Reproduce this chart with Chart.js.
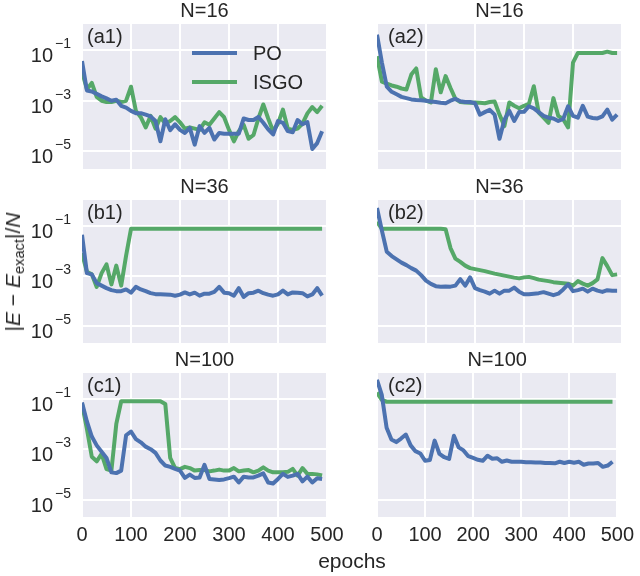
<!DOCTYPE html>
<html>
<head>
<meta charset="utf-8">
<script src="https://cdn.jsdelivr.net/npm/chart.js@4.4.0/dist/chart.umd.min.js"></script>
<style>
  body { margin: 0; background: #fff; }
  #fig { position: relative; width: 640px; height: 576px; overflow: hidden;
         font-family: "Liberation Sans", Arial, Helvetica, sans-serif; color: #262626; }
  .panel { position: absolute; }
  #ylab { position: absolute; left: 13px; top: 272px; white-space: nowrap; font-size: 21px;
          transform: translate(-50%, -50%) rotate(-90deg); }
  #ylab sub { font-size: 0.7em; vertical-align: -0.25em; line-height: 0; }
  #xlab { position: absolute; left: 352px; top: 549px; transform: translateX(-50%); font-size: 21px; }
</style>
</head>
<body>
<div id="fig">
  <div id="ylab">|<i>E</i> − <i>E</i><sub>exact</sub>|/<i>N</i></div>
  <div id="xlab">epochs</div>
</div>
<script>
// sampled epochs (x values)
const epochs = [0, 10, 20, 30, 40, 50, 60, 70, 80, 90,
  100, 110, 120, 130, 140, 150, 160, 170, 180, 190,
  200, 210, 220, 230, 240, 250, 260, 270, 280, 290,
  300, 310, 320, 330, 340, 350, 360, 370, 380, 390,
  400, 410, 420, 430, 440, 450, 460, 470, 480, 490];

const xTicks = [0, 100, 200, 300, 400, 500];
const yTicks = [1e-5, 1e-3, 1e-1];
const seriesNames = ['PO', 'ISGO'];
const titles = ['N=16', 'N=16', 'N=36', 'N=36', 'N=100', 'N=100'];
const tags = ['(a1)', '(a2)', '(b1)', '(b2)', '(c1)', '(c2)'];

// log10 of |E - E_exact|/N
const a1_PO = [-1.44, -2.60, -2.64, -2.73, -2.83, -2.91, -3.00, -2.96, -3.20, -3.27,
  -3.40, -3.49, -3.49, -3.55, -3.62, -3.80, -4.60, -3.73, -4.16, -3.93,
  -4.15, -4.27, -4.07, -4.73, -4.00, -4.27, -4.07, -4.53, -4.27, -4.30,
  -4.30, -4.30, -4.30, -3.70, -3.76, -3.76, -3.64, -3.87, -4.13, -4.33,
  -3.80, -3.87, -4.20, -4.24, -3.76, -3.93, -3.84, -4.90, -4.67, -4.20];
const a1_ISGO = [-1.85, -2.55, -2.30, -2.85, -3.00, -3.05, -3.05, -3.00, -3.05, -3.00,
  -2.45, -3.40, -3.65, -4.05, -3.60, -4.10, -3.65, -3.90, -3.80, -3.65,
  -3.85, -4.10, -4.05, -4.10, -4.15, -3.85, -3.95, -3.70, -3.45, -3.65,
  -4.15, -4.60, -4.20, -3.95, -4.50, -4.35, -3.70, -3.15, -3.70, -4.20,
  -3.90, -3.35, -4.10, -4.15, -4.10, -3.90, -3.50, -3.25, -3.45, -3.20];

const a2_PO = [-0.40, -1.50, -2.45, -2.65, -2.75, -2.85, -2.90, -2.95, -2.97, -2.98,
  -3.00, -3.03, -3.05, -3.08, -3.10, -3.00, -2.93, -3.02, -3.05, -3.05,
  -3.10, -3.55, -3.45, -3.36, -3.55, -4.50, -3.75, -3.40, -3.80, -3.45,
  -3.44, -3.22, -3.30, -3.45, -3.60, -3.67, -3.70, -3.80, -3.72, -3.22,
  -3.60, -3.67, -3.20, -3.63, -3.68, -3.70, -3.62, -3.35, -3.75, -3.55];
const a2_ISGO = [-1.25, -2.25, -2.33, -2.40, -2.45, -2.52, -2.56, -1.97, -1.73, -2.87,
  -3.00, -3.07, -1.76, -2.67, -2.03, -2.50, -2.93, -3.05, -3.07, -3.08,
  -3.07, -3.08, -3.10, -3.05, -3.03, -3.55, -4.00, -3.07, -3.20, -3.30,
  -3.20, -3.13, -2.43, -3.47, -3.67, -3.87, -2.90, -3.60, -3.73, -4.05,
  -1.50, -1.12, -1.12, -1.12, -1.12, -1.12, -1.12, -1.07, -1.12, -1.12];

const b1_PO = [-1.37, -2.90, -2.95, -3.30, -3.40, -3.50, -3.58, -3.62, -3.62, -3.55,
  -3.68, -3.45, -3.55, -3.62, -3.70, -3.74, -3.74, -3.75, -3.76, -3.80,
  -3.76, -3.67, -3.75, -3.68, -3.80, -3.72, -3.72, -3.65, -3.45, -3.68,
  -3.70, -3.80, -3.50, -3.85, -3.70, -3.68, -3.60, -3.70, -3.76, -3.80,
  -3.75, -3.60, -3.75, -3.67, -3.68, -3.70, -3.83, -3.75, -3.50, -3.80];
const b1_ISGO = [-2.10, -2.85, -2.95, -3.45, -2.90, -2.55, -3.35, -2.60, -3.40, -2.20,
  -1.13, -1.13, -1.13, -1.13, -1.13, -1.13, -1.13, -1.13, -1.13, -1.13,
  -1.13, -1.13, -1.13, -1.13, -1.13, -1.13, -1.13, -1.13, -1.13, -1.13,
  -1.13, -1.13, -1.13, -1.13, -1.13, -1.13, -1.13, -1.13, -1.13, -1.13,
  -1.13, -1.13, -1.13, -1.13, -1.13, -1.13, -1.13, -1.13, -1.13, -1.13];

const b2_PO = [-0.30, -1.20, -2.05, -2.22, -2.35, -2.48, -2.58, -2.70, -2.80, -2.98,
  -3.20, -3.33, -3.42, -3.44, -3.43, -3.44, -3.40, -3.14, -3.40, -3.07,
  -3.50, -3.58, -3.64, -3.72, -3.60, -3.72, -3.60, -3.60, -3.48, -3.64,
  -3.74, -3.74, -3.72, -3.70, -3.66, -3.72, -3.78, -3.72, -3.55, -3.35,
  -3.62, -3.58, -3.52, -3.64, -3.52, -3.60, -3.65, -3.58, -3.60, -3.60];
const b2_ISGO = [-0.85, -1.13, -1.13, -1.13, -1.13, -1.13, -1.13, -1.13, -1.13, -1.13,
  -1.13, -1.13, -1.13, -1.13, -1.15, -1.90, -2.32, -2.45, -2.60, -2.70,
  -2.74, -2.78, -2.82, -2.87, -2.92, -2.96, -3.00, -3.04, -3.08, -3.11,
  -3.07, -3.05, -3.10, -3.16, -3.19, -3.22, -3.26, -3.28, -3.30, -3.32,
  -3.40, -3.22, -3.32, -3.40, -3.30, -3.15, -2.30, -2.62, -2.98, -2.95];

const c1_PO = [-1.15, -1.90, -2.50, -2.85, -3.10, -3.35, -3.92, -3.95, -3.85, -2.45,
  -2.30, -2.60, -2.73, -2.90, -3.00, -3.15, -3.45, -3.65, -3.70, -3.78,
  -3.85, -4.14, -4.01, -4.14, -4.12, -3.62, -4.18, -4.20, -4.22, -4.20,
  -4.15, -4.09, -4.32, -4.09, -4.12, -4.12, -4.05, -3.96, -4.32, -4.36,
  -4.18, -3.98, -4.10, -4.05, -3.98, -4.28, -4.09, -4.32, -4.15, -4.18];
const c1_ISGO = [-1.20, -2.20, -3.30, -3.48, -3.19, -3.79, -3.85, -2.00, -1.10, -1.10,
  -1.10, -1.10, -1.10, -1.10, -1.10, -1.10, -1.10, -1.21, -3.35, -3.75,
  -3.79, -3.70, -3.75, -3.85, -3.83, -3.83, -3.88, -3.85, -3.81, -3.85,
  -3.85, -3.75, -3.88, -3.85, -3.83, -3.92, -3.85, -3.72, -3.85, -3.92,
  -3.92, -3.92, -3.90, -3.78, -4.05, -3.75, -3.98, -3.98, -4.00, -4.04];

const c2_PO = [-0.25, -0.85, -2.15, -2.62, -2.72, -2.58, -2.42, -2.85, -3.08, -3.17,
  -3.46, -3.43, -2.66, -3.19, -3.32, -3.39, -2.47, -2.93, -3.05, -3.28,
  -3.35, -3.42, -3.46, -3.26, -3.38, -3.36, -3.50, -3.45, -3.50, -3.50,
  -3.50, -3.52, -3.52, -3.53, -3.53, -3.55, -3.55, -3.56, -3.50, -3.55,
  -3.50, -3.54, -3.50, -3.62, -3.57, -3.57, -3.55, -3.70, -3.65, -3.50];
const c2_ISGO = [-0.75, -1.05, -1.12, -1.12, -1.12, -1.12, -1.12, -1.12, -1.12, -1.12,
  -1.12, -1.12, -1.12, -1.12, -1.12, -1.12, -1.12, -1.12, -1.12, -1.12,
  -1.12, -1.12, -1.12, -1.12, -1.12, -1.12, -1.12, -1.12, -1.12, -1.12,
  -1.12, -1.12, -1.12, -1.12, -1.12, -1.12, -1.12, -1.12, -1.12, -1.12,
  -1.12, -1.12, -1.12, -1.12, -1.12, -1.12, -1.12, -1.12, -1.12, -1.12];

const panelSeries = [[a1_PO, a1_ISGO], [a2_PO, a2_ISGO], [b1_PO, b1_ISGO],
  [b2_PO, b2_ISGO], [c1_PO, c1_ISGO], [c2_PO, c2_ISGO]];

// layout (pixels) and styles
const TEXT = '#262626';
const FONT = '"Liberation Sans", Arial, Helvetica, sans-serif';
const colors = ['#4C72B0', '#55A868'];
const LINE_W = 4;
const rows = [{ top: 24, bottom: 169 }, { top: 200, bottom: 343 }, { top: 373, bottom: 517 }];
const cols = [{ left: 82, right: 327, boxLeft: 0, boxRight: 350, tagDx: 5 },
              { left: 377, right: 622, boxLeft: 340, boxRight: 640, tagDx: 11 }];
const yMin = Math.pow(10, -5.69), yMax = Math.pow(10, 0.02);

// fond, titre, étiquette du panneau, graduations 10^k et légende
const panelDecor = {
  id: 'panelDecor',
  beforeDraw(chart) {
    const { ctx, chartArea: a } = chart;
    ctx.save();
    ctx.fillStyle = '#EAEAF2';
    ctx.fillRect(a.left, a.top, a.right - a.left, a.bottom - a.top);
    ctx.restore();
  },
  afterDraw(chart, args, opts) {
    const { ctx, chartArea: a } = chart;
    ctx.save();
    ctx.fillStyle = TEXT;
    ctx.textBaseline = 'alphabetic';
    ctx.font = '20px ' + FONT;
    ctx.textAlign = 'center';
    ctx.fillText(opts.title, (a.left + a.right) / 2, a.top - 7);
    ctx.textAlign = 'left';
    ctx.fillText(opts.tag, a.left + opts.tagDx, a.top + 19);

    if (opts.yLabels) {
      const ys = chart.scales.y;
      ys.ticks.forEach(t => {
        const py = ys.getPixelForValue(t.value);
        const exp = Math.round(Math.log10(t.value));
        ctx.font = '20px ' + FONT;
        ctx.textAlign = 'right';
        ctx.fillText('10', a.left - 29, py + 12);
        ctx.font = '14px ' + FONT;
        ctx.textAlign = 'left';
        ctx.fillText((exp < 0 ? '\u2212' : '') + Math.abs(exp), a.left - 27, py - 2);
      });
    }

    if (opts.legend) {
      chart.data.datasets.forEach((ds, i) => {
        const ly = a.top + 29 + i * 29;
        ctx.strokeStyle = ds.borderColor;
        ctx.lineWidth = LINE_W;
        ctx.beginPath();
        ctx.moveTo(a.left + 110, ly);
        ctx.lineTo(a.left + 155, ly);
        ctx.stroke();
        ctx.font = '20px ' + FONT;
        ctx.textAlign = 'left';
        ctx.fillText(ds.label, a.left + 171, ly + 7);
      });
    }
    ctx.restore();
  }
};

const fig = document.getElementById('fig');

panelSeries.forEach((series, p) => {
  const r = Math.floor(p / 2), c = p % 2;
  const row = rows[r], col = cols[c];
  const bottomRow = r === 2;
  const boxTop = row.top - 24;
  const boxBottom = bottomRow ? 576 : row.bottom + 4;

  const div = document.createElement('div');
  div.className = 'panel';
  div.style.left = col.boxLeft + 'px';
  div.style.top = boxTop + 'px';
  div.style.width = (col.boxRight - col.boxLeft) + 'px';
  div.style.height = (boxBottom - boxTop) + 'px';
  const canvas = document.createElement('canvas');
  div.appendChild(canvas);
  fig.insertBefore(div, fig.firstChild);

  new Chart(canvas, {
    type: 'line',
    data: {
      datasets: series.map((vals, i) => ({
        label: seriesNames[i],
        data: epochs.map((e, k) => ({ x: e, y: Math.pow(10, vals[k]) })),
        borderColor: colors[i],
        borderWidth: LINE_W,
        borderJoinStyle: 'round',
        pointRadius: 0,
        tension: 0,
        fill: false
      }))
    },
    options: {
      responsive: true,
      maintainAspectRatio: false,
      animation: false,
      layout: {
        padding: {
          left: col.left - col.boxLeft,
          right: col.boxRight - col.right,
          top: 24,
          bottom: bottomRow ? 0 : 4
        }
      },
      scales: {
        x: {
          type: 'linear',
          min: 0,
          max: 500,
          afterBuildTicks: s => { s.ticks = xTicks.map(v => ({ value: v })); },
          afterFit: s => { s.height = bottomRow ? 576 - row.bottom : 0; },
          grid: { color: '#FFFFFF', lineWidth: 2, drawTicks: false },
          border: { display: false },
          ticks: {
            display: bottomRow,
            color: TEXT,
            padding: 6,
            maxRotation: 0,
            font: { family: FONT, size: 20 }
          }
        },
        y: {
          type: 'logarithmic',
          min: yMin,
          max: yMax,
          bounds: 'data',
          afterBuildTicks: s => { s.ticks = yTicks.map(v => ({ value: v })); },
          afterFit: s => { s.width = 0; },
          grid: { color: '#FFFFFF', lineWidth: 2, drawTicks: false },
          border: { display: false },
          ticks: { display: false }
        }
      },
      plugins: {
        legend: { display: false },
        tooltip: { enabled: false },
        panelDecor: {
          title: titles[p],
          tag: tags[p],
          tagDx: col.tagDx,
          yLabels: c === 0,
          legend: p === 0
        }
      }
    },
    plugins: [panelDecor]
  });
});
</script>
</body>
</html>
